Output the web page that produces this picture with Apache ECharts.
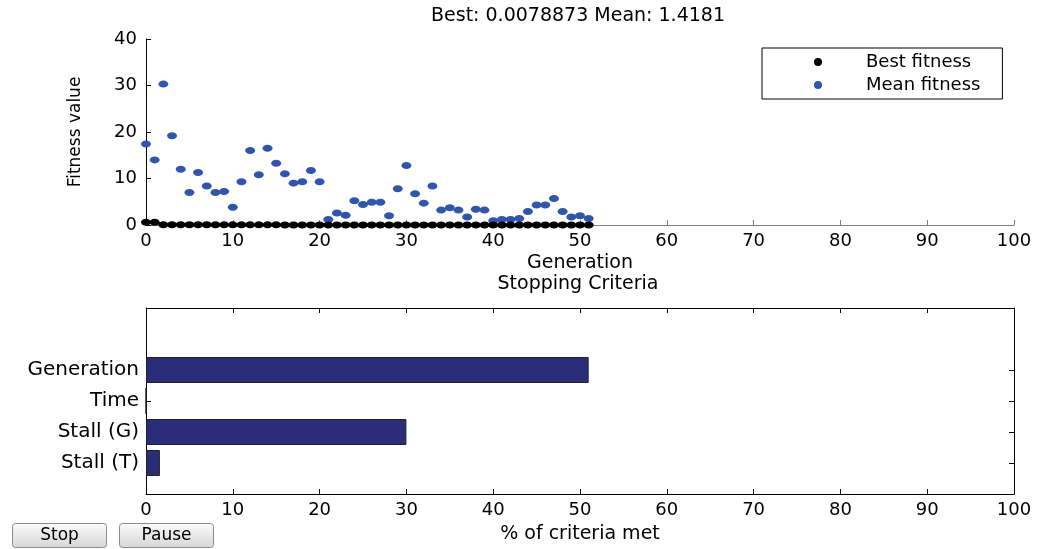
<!DOCTYPE html>
<html>
<head>
<meta charset="utf-8">
<title>GA progress</title>
<script src="https://cdn.jsdelivr.net/npm/echarts@6/dist/echarts.min.js"></script>
<style>
html, body { margin: 0; padding: 0; background: #fff; }
#main { width: 1042px; height: 549px; }
</style>
</head>
<body>
<div id="main"></div>
<script>
// generation number for each point
var generations = [0,1,2,3,4,5,6,7,8,9,10,11,12,13,14,15,16,17,18,19,20,21,22,23,24,25,
                   26,27,28,29,30,31,32,33,34,35,36,37,38,39,40,41,42,43,44,45,46,47,48,49,50,51];
// best fitness per generation (all near zero after gen 1)
var bestFitness = [0.57,0.6,0.05,0.05,0.04,0.04,0.04,0.04,0.03,0.03,0.03,0.03,0.03,0.03,0.03,0.03,
                   0.02,0.02,0.02,0.02,0.02,0.02,0.02,0.02,0.02,0.02,0.015,0.015,0.015,0.015,0.015,0.015,
                   0.012,0.012,0.012,0.012,0.012,0.012,0.01,0.01,0.01,0.01,0.01,0.01,0.009,0.009,0.009,
                   0.009,0.008,0.008,0.008,0.0078873];
// mean fitness per generation
var meanFitness = [17.4,14.0,30.3,19.2,12.0,7.0,11.3,8.4,7.0,7.2,3.8,9.3,16.0,10.8,16.5,13.3,11.0,9.0,
                   9.3,11.7,9.3,1.2,2.6,2.1,5.2,4.4,4.9,4.9,2.0,7.8,12.8,6.7,4.7,8.4,3.2,3.7,3.2,1.7,
                   3.4,3.2,0.9,1.2,1.2,1.4,2.9,4.3,4.3,5.7,2.9,1.7,2.0,1.4181];

// stopping criteria (percent met)
var criteria = ['Generation', 'Time', 'Stall (G)', 'Stall (T)'];
var percentMet = [51, 0, 30, 1.6];
// y slots of the bottom plot: two empty rows on top, one below
var criteriaSlots = ['', ''].concat(criteria).concat(['']);

var FONT = 'DejaVu Sans';

var dom = document.getElementById('main');
var myChart = echarts.init(dom, null, {renderer: 'canvas'});
var option = null;

function showNamed(index, value) { return value !== ''; }

function button(x, label) {
    return {
        type: 'group',
        left: x,
        top: 523,
        children: [{
            type: 'rect',
            shape: {x: 0, y: 0, width: 94, height: 24, r: 3},
            style: {
                fill: new echarts.graphic.LinearGradient(0, 0, 0, 1, [
                    {offset: 0, color: '#fbfbfb'},
                    {offset: 1, color: '#d6d6d6'}
                ]),
                stroke: '#8c8c8c',
                lineWidth: 1
            }
        }, {
            type: 'text',
            x: 47,
            y: 12,
            style: {
                text: label,
                font: '17px "DejaVu Sans"',
                fill: '#000',
                align: 'center',
                verticalAlign: 'middle'
            }
        }]
    };
}

option = {
    backgroundColor: '#fff',
    animation: false,
    textStyle: {fontFamily: FONT, color: '#000'},
    title: [{
        text: 'Best: 0.0078873 Mean: 1.4181',
        left: 578,
        top: 7,
        textAlign: 'center',
        padding: 0,
        textStyle: {fontFamily: FONT, fontSize: 19, fontWeight: 'normal', color: '#000'}
    }, {
        text: 'Stopping Criteria',
        left: 578,
        top: 275,
        textAlign: 'center',
        padding: 0,
        textStyle: {fontFamily: FONT, fontSize: 19, fontWeight: 'normal', color: '#000'}
    }],
    legend: {
        data: ['Best fitness', 'Mean fitness'],
        orient: 'vertical',
        left: 762,
        top: 48,
        padding: [5, 22, 5, 52],
        backgroundColor: '#fff',
        borderColor: '#000',
        borderWidth: 1,
        borderRadius: 0,
        itemWidth: 10,
        itemHeight: 8,
        itemGap: 5,
        icon: 'circle',
        itemStyle: {opacity: 1},
        textStyle: {fontFamily: FONT, fontSize: 18, color: '#000', lineHeight: 18, padding: [0, 0, 0, 38]}
    },
    grid: [
        {left: 146, right: 28, top: 39, bottom: 324, containLabel: false},
        {left: 146, right: 28, top: 308, bottom: 55, containLabel: false}
    ],
    xAxis: [{
        gridIndex: 0,
        type: 'value',
        min: 0, max: 100, interval: 10,
        name: 'Generation',
        nameLocation: 'middle',
        nameGap: 29,
        nameTextStyle: {fontFamily: FONT, fontSize: 19, color: '#000'},
        axisLine: {show: true, onZero: false, lineStyle: {color: '#808080', width: 1}},
        axisTick: {show: true, inside: true, length: 5, lineStyle: {color: '#808080'}},
        axisLabel: {fontFamily: FONT, fontSize: 18, color: '#000', margin: 7},
        splitLine: {show: false}
    }, {
        gridIndex: 1,
        type: 'value',
        position: 'bottom',
        min: 0, max: 100, interval: 10,
        name: '% of criteria met',
        nameLocation: 'middle',
        nameGap: 31,
        nameTextStyle: {fontFamily: FONT, fontSize: 19, color: '#000'},
        axisLine: {show: true, onZero: false, lineStyle: {color: '#000', width: 1}},
        axisTick: {show: true, inside: true, length: 5, lineStyle: {color: '#000'}},
        axisLabel: {fontFamily: FONT, fontSize: 18, color: '#000', margin: 7},
        splitLine: {show: false}
    }, {
        gridIndex: 1,
        type: 'value',
        position: 'top',
        min: 0, max: 100, interval: 10,
        axisLine: {show: true, onZero: false, lineStyle: {color: '#000', width: 1}},
        axisTick: {show: true, inside: true, length: 5, lineStyle: {color: '#000'}},
        axisLabel: {show: false},
        splitLine: {show: false}
    }],
    yAxis: [{
        gridIndex: 0,
        type: 'value',
        min: 0, max: 40, interval: 10,
        name: 'Fitness value',
        nameLocation: 'middle',
        nameGap: 62,
        nameRotate: 90,
        nameTextStyle: {fontFamily: FONT, fontSize: 17, color: '#000'},
        axisLine: {show: true, onZero: false, lineStyle: {color: '#000', width: 1}},
        axisTick: {show: true, inside: true, length: 5, lineStyle: {color: '#000'}},
        axisLabel: {fontFamily: FONT, fontSize: 18, color: '#000', margin: 9},
        splitLine: {show: false}
    }, {
        gridIndex: 1,
        type: 'category',
        data: criteriaSlots,
        inverse: true,
        boundaryGap: false,
        axisLine: {show: true, onZero: false, lineStyle: {color: '#000', width: 1}},
        axisTick: {show: true, inside: true, length: 5, interval: showNamed, lineStyle: {color: '#000'}},
        axisLabel: {fontFamily: FONT, fontSize: 20, color: '#000', margin: 7, interval: showNamed},
        splitLine: {show: false}
    }, {
        gridIndex: 1,
        type: 'category',
        position: 'right',
        data: criteriaSlots,
        inverse: true,
        boundaryGap: false,
        axisLine: {show: true, onZero: false, lineStyle: {color: '#000', width: 1}},
        axisTick: {show: true, inside: true, length: 5, interval: showNamed, lineStyle: {color: '#000'}},
        axisLabel: {show: false},
        splitLine: {show: false}
    }],
    series: [{
        name: 'Best fitness',
        type: 'scatter',
        xAxisIndex: 0,
        yAxisIndex: 0,
        symbol: 'circle',
        symbolSize: [10, 7],
        itemStyle: {color: '#000', opacity: 1},
        z: 3,
        data: generations.map(function (g, i) { return [g, bestFitness[i]]; })
    }, {
        name: 'Mean fitness',
        type: 'scatter',
        xAxisIndex: 0,
        yAxisIndex: 0,
        symbol: 'circle',
        symbolSize: [10, 7],
        itemStyle: {color: '#2f55b0', opacity: 1},
        z: 2,
        data: generations.map(function (g, i) { return [g, meanFitness[i]]; })
    }, {
        name: 'Criteria',
        type: 'bar',
        xAxisIndex: 1,
        yAxisIndex: 1,
        barWidth: 26,
        itemStyle: {color: '#2a2e7a', borderColor: '#222', borderWidth: 1},
        data: criteria.map(function (c, i) { return [percentMet[i], c]; })
    }],
    graphic: [button(12, 'Stop'), button(119, 'Pause')]
};

if (option && typeof option === "object") {
    myChart.setOption(option, true);
}
</script>
</body>
</html>
